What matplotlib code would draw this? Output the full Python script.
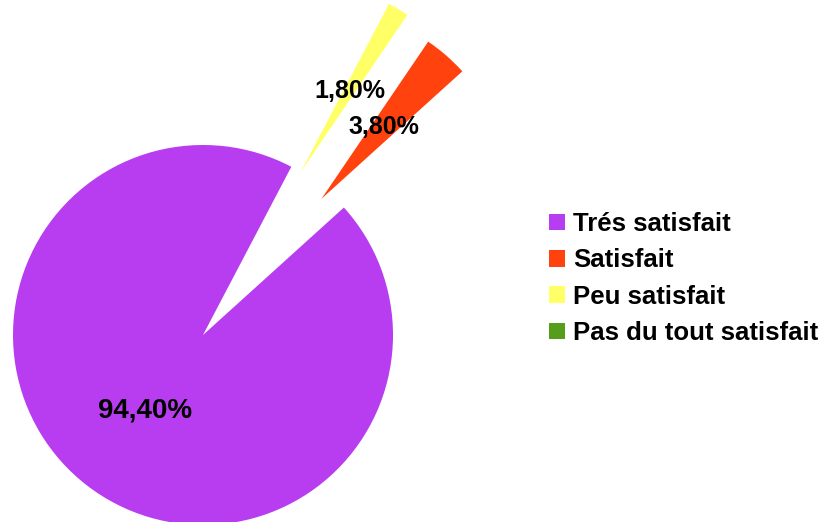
import matplotlib.pyplot as plt

categories = ['Trés satisfait', 'Satisfait', 'Peu satisfait', 'Pas du tout satisfait']
values = [94.4, 3.8, 1.8, 0.0]
colors = ['#b83df0', '#ff420e', '#ffff66', '#579d1c']
explode = [0.0, 0.95, 1.0, 0.0]  # as a fraction of the radius

W, H = 824, 522
R = 190
fig = plt.figure(figsize=(W / 100, H / 100), dpi=100)
ax = fig.add_axes([0, 0, 1, 1])

def fmt(p):
    if p < 0.05:
        return ''
    return f'{p:.2f}%'.replace('.', ',')

wedges, texts, autotexts = ax.pie(
    values, colors=colors, explode=[e * R for e in explode], startangle=62.3,
    center=(203, H - 335), radius=R, autopct=fmt, pctdistance=0.5,
    wedgeprops={'linewidth': 0},
    textprops={'family': 'Liberation Sans', 'weight': 'bold', 'color': 'black'},
    frame=True)

for i, t in enumerate(autotexts):
    t.set_fontsize(20 if i == 0 else 18)

ax.set_xlim(0, W)
ax.set_ylim(0, H)
ax.set_aspect('equal')
ax.axis('off')

fig.legend(wedges, categories, loc='center left',
           bbox_to_anchor=(549 / W, 1 - 278.5 / H),
           frameon=False, borderpad=0, borderaxespad=0,
           handlelength=0.63, handleheight=0.63, handletextpad=0.32,
           labelspacing=0.48,
           prop={'family': 'Liberation Sans', 'weight': 'bold', 'size': 18.5})

fig.savefig('out.png', dpi=100)
